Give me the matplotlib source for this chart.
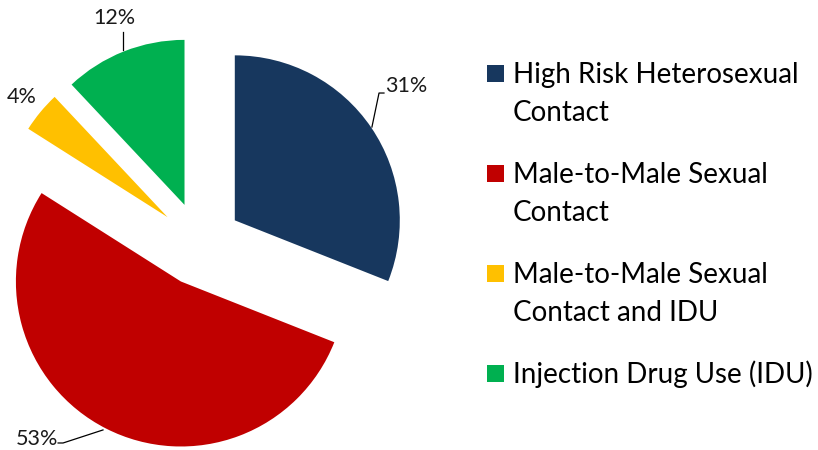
import matplotlib.pyplot as plt
from matplotlib.patches import Rectangle

# data
categories = ['High Risk Heterosexual\nContact',
              'Male-to-Male Sexual\nContact',
              'Male-to-Male Sexual\nContact and IDU',
              'Injection Drug Use (IDU)']
shares = [31, 53, 4, 12]
colors = ['#17375E', '#C00000', '#FFC000', '#00B050']

# label layout (data units, pie radius = 1)
label_pos = [(1.12, 0.955, 'left'), (-0.99, -1.18, 'center'),
             (-1.08, 0.89, 'center'), (-0.52, 1.37, 'center')]
leaders = [[(1.042, 0.709), (1.085, 0.915), (1.115, 0.915)],
           [(-0.588, -1.127), (-0.830, -1.206), (-0.86, -1.206)],
           None,
           [(-0.467, 1.176), (-0.467, 1.285)]]

W, H = 818, 450
FONT = 'Lato'


def plot():
    fig = plt.figure(figsize=(W / 100, H / 100), dpi=100)
    ax = fig.add_axes([0, 0, 1, 1])
    r = 165.0
    cx, cy = 200, 244
    ax.pie(shares, colors=colors, startangle=90, counterclock=False,
           explode=[0.255] * len(shares), radius=1,
           wedgeprops=dict(linewidth=0))
    ax.set_xlim(-cx / r, (W - cx) / r)
    ax.set_ylim(-(H - cy) / r, cy / r)
    ax.set_aspect('equal')
    ax.axis('off')

    for v, (x, y, ha), lead in zip(shares, label_pos, leaders):
        ax.text(x, y, f'{v}%', ha=ha, va='center', fontsize=15.5,
                family=FONT, color='#1a1a1a')
        if lead:
            xs, ys = zip(*lead)
            ax.plot(xs, ys, color='black', lw=0.9)

    # legend drawn by hand, square next to the first line of each entry
    for i, (lab, c) in enumerate(zip(categories, colors)):
        base = 83 + 100 * i
        fig.add_artist(Rectangle((487 / W, 1 - (base - 1) / H), 17 / W, 17 / H,
                                 transform=fig.transFigure, color=c, lw=0))
        for j, line in enumerate(lab.split('\n')):
            fig.text(513 / W, 1 - (base + 38 * j) / H, line, ha='left',
                     va='baseline', fontsize=20, family=FONT, color='black')

    fig.savefig('out.png', dpi=100)


plot()
